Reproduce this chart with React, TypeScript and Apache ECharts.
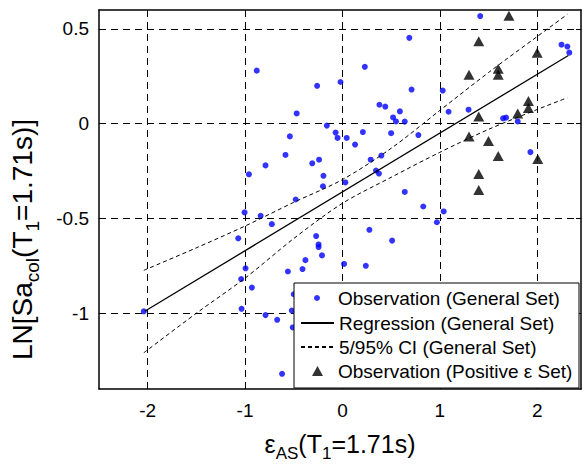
import React, { useEffect, useRef } from 'react';
import * as echarts from 'echarts';

// General set observations
const genX = [-2.04, -0.88, -0.26, -0.02, 0.23, -0.47, -0.16, -0.54, -0.07, -0.05, 0.044, 0.21, 0.38, 0.44, 0.5,
  1.415, 0.687, 0.71, 1.03, 0.59, 0.52, 0.55, 0.64, 1.09, 1.295, 1.65, 1.68, 1.8, 2.25, 2.31, 2.33, 0.78, 1.93,
  0.4, 0.345, 0.375, 0.64, 0.83, 1.04, 0.97, 0.51, 0.13, -0.585, -0.79, -0.31, -0.24, -0.96, -0.195, -0.2, 0.03,
  0.29, -0.48, -1.005, -0.84, -0.725, -1.07, -0.27, -0.245, -0.245, -0.21, -0.38, -0.41, -0.56, -0.995, -1.04,
  0.017, 0.24, 0.277, -0.93, -1.036, -0.79, -0.67, -0.5, -0.52, -0.51, -0.62];
const genY = [-0.99, 0.28, 0.2, 0.22, 0.3, 0.054, -0.01, -0.067, -0.047, -0.075, -0.075, -0.044, 0.1, 0.09, -0.05,
  0.568, 0.453, 0.18, 0.175, 0.065, 0.033, 0.012, 0.011, 0.063, 0.074, 0.028, 0.032, 0.012, 0.417, 0.407, 0.375, -0.06, -0.15,
  -0.168, -0.247, -0.263, -0.36, -0.437, -0.463, -0.52, -0.617, -0.11, -0.165, -0.22, -0.209, -0.19, -0.267, -0.275, -0.33, -0.31,
  -0.19, -0.4, -0.468, -0.486, -0.53, -0.605, -0.593, -0.637, -0.651, -0.695, -0.72, -0.767, -0.78, -0.763, -0.82,
  -0.74, -0.75, -0.56, -0.865, -0.977, -1.01, -1.035, -0.9, -0.986, -1.075, -1.32];

// Positive epsilon set observations
const posX = [1.71, 1.4, 2.0, 1.3, 1.6, 1.6, 1.91, 1.91, 1.8, 1.4, 1.3, 1.5, 1.6, 1.4, 1.4, 2.006];
const posY = [0.57, 0.435, 0.375, 0.258, 0.29, 0.258, 0.12, 0.083, 0.054, 0.038, -0.068, -0.091, -0.17, -0.265, -0.35, -0.186];

// Regression line end points
const regX = [-2.03, 2.32];
const regY = [-0.99, 0.36];

// 5/95% confidence bounds
const ciX = [-2.04, -1.5, -1, -0.5, 0, 0.5, 1, 1.5, 2, 2.31];
const ciUpper = [-0.774, -0.655, -0.54, -0.415, -0.295, -0.13, 0.07, 0.27, 0.46, 0.577];
const ciLower = [-1.209, -1.0, -0.815, -0.606, -0.42, -0.283, -0.151, -0.03, 0.075, 0.137];

// Tick values
const xTicks = [-2, -1, 0, 1, 2];
const yTicks = [-1, -0.5, 0, 0.5];

const N1 = 'Observation (General Set)';
const N2 = 'Regression (General Set)';
const N3 = '5/95% CI (General Set)';
const N4 = 'Observation (Positive \u03b5 Set)';

const FONT = 'Liberation Sans, Arial, Helvetica, sans-serif';

function zip(a: number[], b: number[]) {
  return a.map((v, i) => [v, b[i]]);
}

function richFor(f: number) {
  return {
    m: { fontSize: f, lineHeight: f + 6, verticalAlign: 'top', fontFamily: FONT, color: '#000' },
    s: { fontSize: Math.round(f * 0.68), lineHeight: 8, verticalAlign: 'bottom', fontFamily: FONT, color: '#000' },
  };
}

export default function App() {
  const ref = useRef<HTMLDivElement>(null);
  useEffect(() => {
    document.body.style.margin = '0';
    const chart = echarts.init(ref.current!, null, { renderer: 'svg' });
    const gridDash = { color: '#000', width: 1, type: [7, 5] as any };
    const boxLine = { color: '#000', width: 1.5 };
    const mkLegend = (name: string, left: number, top: number, w: number, h: number, padL: number, itemStyle: any) => ({
      data: [name],
      left,
      top,
      padding: 0,
      itemWidth: w,
      itemHeight: h,
      itemGap: 0,
      selectedMode: false,
      itemStyle,
      textStyle: { fontSize: 19, fontFamily: FONT, color: '#000', lineHeight: 20, padding: [0, 0, 0, padL] },
      z: 20,
    });
    const option: any = {
      animation: false,
      backgroundColor: '#fff',
      textStyle: { fontFamily: FONT },
      grid: { left: 99, right: 2, top: 10, bottom: 75, containLabel: false, outerBoundsMode: 'none' },
      xAxis: [
        {
          type: 'value', min: -2.5, max: 2.45, position: 'bottom',
          axisLine: { show: true, onZero: false, lineStyle: boxLine },
          axisTick: { show: true, inside: true, length: 5, customValues: xTicks, lineStyle: { color: '#000' } },
          axisLabel: { show: true, customValues: xTicks, margin: 12, fontSize: 19, color: '#000', fontFamily: FONT },
          splitLine: { show: true, lineStyle: gridDash },
          name: '{m|\u03b5}{s|AS}{m|(T}{s|1}{m|=1.71s)}',
          nameLocation: 'middle', nameGap: 42,
          nameTextStyle: { fontSize: 25, fontFamily: FONT, color: '#000', rich: richFor(25) },
        },
        {
          type: 'value', min: -2.5, max: 2.45, position: 'top',
          axisLine: { show: true, onZero: false, lineStyle: boxLine },
          axisTick: { show: true, inside: true, length: 5, customValues: xTicks, lineStyle: { color: '#000' } },
          axisLabel: { show: false },
          splitLine: { show: false },
        },
      ],
      yAxis: [
        {
          type: 'value', min: -1.4, max: 0.6, position: 'left',
          axisLine: { show: true, onZero: false, lineStyle: boxLine },
          axisTick: { show: true, inside: true, length: 5, customValues: yTicks, lineStyle: { color: '#000' } },
          axisLabel: { show: true, customValues: yTicks, margin: 10, fontSize: 19, color: '#000', fontFamily: FONT },
          splitLine: { show: true, lineStyle: gridDash },
          name: '{m|LN[Sa}{s|col}{m|(T}{s|1}{m|=1.71s)]}',
          nameLocation: 'middle', nameGap: 57,
          nameTextStyle: { fontSize: 28, fontFamily: FONT, color: '#000', rich: richFor(28), padding: [0, 80, 0, 0] },
        },
        {
          type: 'value', min: -1.4, max: 0.6, position: 'right',
          axisLine: { show: true, onZero: false, lineStyle: boxLine },
          axisTick: { show: true, inside: true, length: 5, customValues: yTicks, lineStyle: { color: '#000' } },
          axisLabel: { show: false },
          splitLine: { show: false },
        },
      ],
      legend: [
        mkLegend(N1, 314, 288, 6, 6, 13, { color: '#0000ff' }),
        mkLegend(N2, 300, 313, 33, 2, 0, { opacity: 0 }),
        mkLegend(N3, 300, 337, 33, 2, 0, { opacity: 0 }),
        mkLegend(N4, 312, 361, 11, 10, 10, { color: '#000' }),
      ],
      graphic: [
        {
          type: 'rect', z: 10,
          shape: { x: 294, y: 283, width: 285, height: 105 },
          style: { fill: '#fff', stroke: '#000', lineWidth: 1 },
        },
      ],
      series: [
        {
          name: N1, type: 'scatter', data: zip(genX, genY), symbol: 'circle', symbolSize: 6,
          itemStyle: { color: '#0000ff' }, z: 2,
        },
        {
          name: N2, type: 'line', data: zip(regX, regY), symbol: 'none', showSymbol: false,
          lineStyle: { color: '#000', width: 1.3, type: 'solid' }, itemStyle: { color: '#000' }, z: 3,
        },
        {
          name: N3, type: 'line', data: zip(ciX, ciUpper), symbol: 'none', showSymbol: false, smooth: 0.3,
          lineStyle: { color: '#000', width: 1, type: [4, 3] }, itemStyle: { color: '#000' }, z: 3,
        },
        {
          name: N3, type: 'line', data: zip(ciX, ciLower), symbol: 'none', showSymbol: false, smooth: 0.3,
          lineStyle: { color: '#000', width: 1, type: [4, 3] }, itemStyle: { color: '#000' }, z: 3,
        },
        {
          name: N4, type: 'scatter', data: zip(posX, posY), symbol: 'triangle', symbolSize: [11, 10],
          itemStyle: { color: '#000' }, z: 4,
        },
      ],
    };
    chart.setOption(option);
    return () => chart.dispose();
  }, []);
  return <div ref={ref} style={{ width: 583, height: 464 }} />;
}
